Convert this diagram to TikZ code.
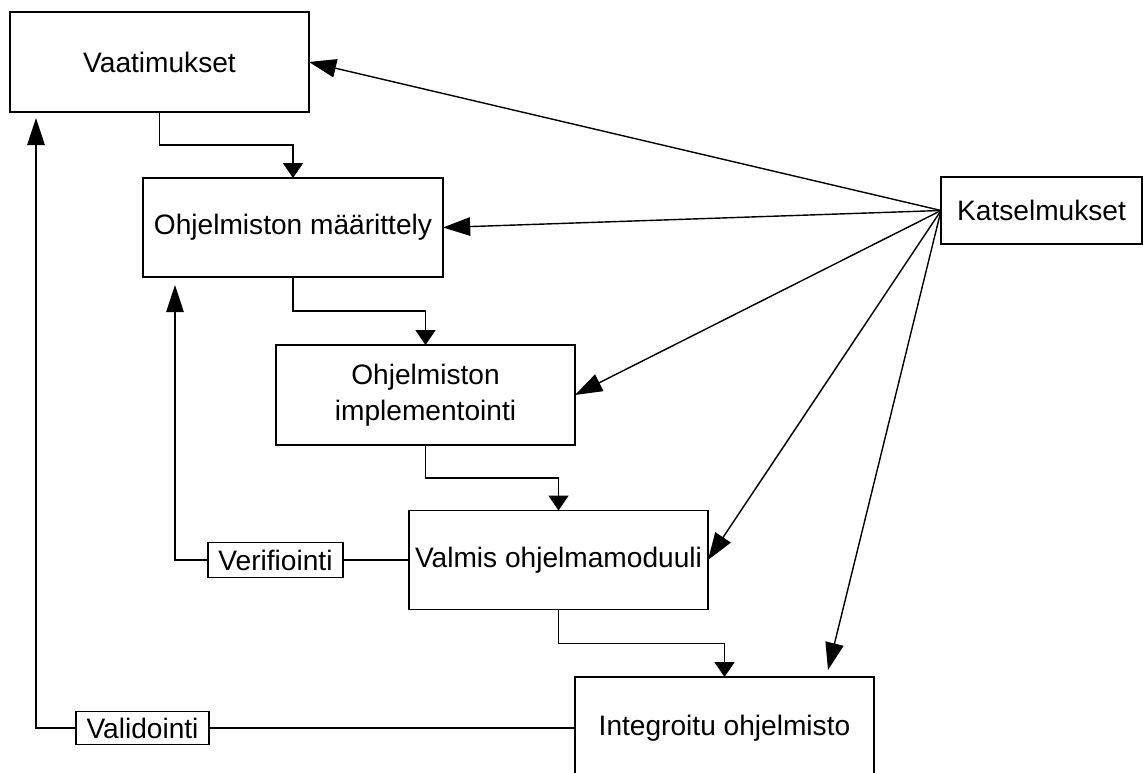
\documentclass[tikz,border=0pt]{standalone}
\usepackage{fontspec}
\setmainfont{Liberation Sans}
\usetikzlibrary{arrows.meta}
\begin{document}
\begin{tikzpicture}[x=0.02cm,y=-0.02cm,
  line width=0.8pt,
  box/.style={draw, inner sep=0pt, outer sep=0pt, align=center,
    font=\fontsize{16}{20.5}\selectfont},
  tag/.style={box, fill=white},
  flow/.style={-{Triangle[length=8.5pt,width=11.4pt]}},
  review/.style={-{Triangle[length=15.5pt,width=10.5pt]}},
  back/.style={-{Triangle[length=15.5pt,width=10pt]}}]
\useasboundingbox (0,0) rectangle (1143,773);
\fill[white] (0,0) rectangle (1143,773);
\clip (0,0) rectangle (1143,773);

% process stages
\node[box, minimum width=5.98cm, minimum height=2cm] (vaat) at (159.5,62) {Vaatimukset};
\node[box, minimum width=6cm, minimum height=1.98cm] (maar) at (293,227.5) {Ohjelmiston määrittely};
\node[box, minimum width=5.98cm, minimum height=2cm] (impl) at (425.5,395) {Ohjelmiston\\implementointi};
\node[box, minimum width=5.98cm, minimum height=1.98cm] (valm) at (558.5,560) {Valmis ohjelmamoduuli};
\node[box, minimum width=5.98cm, minimum height=2.04cm] (integ) at (724.5,728) {Integroitu ohjelmisto};
\node[box, minimum width=4.02cm, minimum height=1.34cm] (kats) at (1041.5,210.5) {Katselmukset};

% feedback labels, on the level of the stage they leave from
\node[tag, minimum width=2.7cm, minimum height=0.7cm] (verif) at (275.5,560) {Verifiointi};
\node[tag, minimum width=2.66cm, minimum height=0.66cm] (valid) at (142.5,728) {Validointi};

% free ends of connectors
\coordinate (vtip) at (175,285);
\coordinate (atip) at (36,118);
\coordinate (itip) at (828,670);

% forward flow between stages
\draw[flow] (vaat.south) -- ++(0,33) -| (maar.north);
\draw[flow] (maar.south) -- ++(0,34) -| (impl.north);
\draw[flow] (impl.south) -- ++(0,33) -| (valm.north);
\draw[flow] (valm.south) -- ++(0,34) -| (integ.north);

% verification and validation feedback
\draw (valm.west) -- (verif.east);
\draw[back] (verif.west) -| (vtip);
\draw (integ.west) -- (valid.east);
\draw[back] (valid.west) -| (atip);

% reviews
\draw[review] (kats.west) -- (vaat.east);
\draw[review] (kats.west) -- (maar.east);
\draw[review] (kats.west) -- (impl.east);
\draw[review] (kats.west) -- (valm.east);
\draw[review] (kats.west) -- (itip);
\end{tikzpicture}
\end{document}
